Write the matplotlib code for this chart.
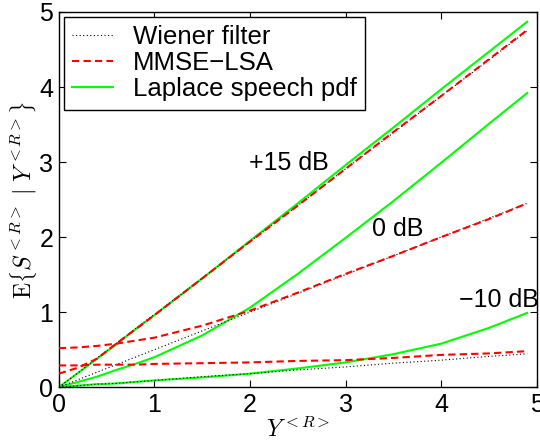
import io
import numpy as np
import matplotlib
matplotlib.use('Agg')
import matplotlib.pyplot as plt
from matplotlib import mathtext

plt.rcParams['font.family'] = ['Liberation Sans', 'DejaVu Sans']
plt.rcParams['mathtext.fontset'] = 'cm'

# Y^<R> sample points
y_r = [0, 0.2, 0.4, 0.6, 0.8, 1.0, 1.5, 2.0, 2.5, 3.0, 3.5, 4.0, 4.5, 4.9]

# Wiener filter
wiener_p15 = [0, 0.19, 0.39, 0.58, 0.78, 0.97, 1.45, 1.94, 2.42, 2.91, 3.39, 3.88, 4.36, 4.75]
wiener_0 = [0, 0.10, 0.20, 0.30, 0.40, 0.50, 0.75, 1.00, 1.25, 1.50, 1.75, 2.00, 2.25, 2.45]
wiener_m10 = [0, 0.02, 0.04, 0.05, 0.07, 0.09, 0.14, 0.18, 0.23, 0.27, 0.32, 0.36, 0.41, 0.445]

# MMSE-LSA
lsa_p15 = [0.18, 0.26, 0.38, 0.58, 0.77, 0.96, 1.45, 1.94, 2.42, 2.91, 3.40, 3.88, 4.37, 4.76]
lsa_0 = [0.52, 0.53, 0.55, 0.58, 0.62, 0.66, 0.82, 1.02, 1.26, 1.51, 1.75, 2.00, 2.24, 2.45]
lsa_m10 = [0.29, 0.29, 0.30, 0.30, 0.30, 0.31, 0.32, 0.33, 0.35, 0.36, 0.39, 0.43, 0.45, 0.48]

# Laplace speech pdf
lap_p15 = [0, 0.19, 0.38, 0.57, 0.77, 0.96, 1.45, 1.95, 2.45, 2.96, 3.46, 3.97, 4.47, 4.87]
lap_0 = [0, 0.07, 0.14, 0.23, 0.31, 0.40, 0.69, 1.06, 1.51, 1.99, 2.48, 2.99, 3.51, 3.92]
lap_m10 = [0, 0.02, 0.04, 0.05, 0.07, 0.09, 0.13, 0.18, 0.25, 0.33, 0.44, 0.58, 0.79, 0.99]

snr_labels = ['+15 dB', '0 dB', '\u221210 dB']
label_pos = [(1.99, 2.89), (3.28, 2.01), (4.19, 1.07)]

ylab = r'$\mathrm{E}\Bigl\{S^{<R>}\ \Big|\ Y^{<R>}\Bigr\}$'
try:
    mathtext.math_to_image(ylab, io.BytesIO(), format='png')
except Exception:
    ylab = r'$\mathrm{E}\left\{S^{<R>}\ |\ Y^{<R>}\right\}$'

fig = plt.figure(figsize=(5.4, 4.43), dpi=100)
ax = fig.add_axes([0.109, 0.126, 0.885, 0.847])

green = '#00ff00'
for lap in [lap_p15, lap_0, lap_m10]:
    l3, = ax.plot(y_r, lap, color=green, lw=1.5, zorder=2)
for w in [wiener_p15, wiener_0, wiener_m10]:
    l1, = ax.plot(y_r, w, color='black', lw=0.8, ls=(0, (1, 2.2)), zorder=3)
for m in [lsa_p15, lsa_0, lsa_m10]:
    l2, = ax.plot(y_r, m, color='red', lw=1.5, ls=(0, (3.5, 2)), zorder=4)

for txt, (tx, ty) in zip(snr_labels, label_pos):
    ax.text(tx, ty, txt, fontsize=18, va='baseline', ha='left', zorder=5)

ax.set_xlim(0, 5)
ax.set_ylim(0, 5)
ax.set_xticks(range(6))
ax.set_yticks(range(6))
ax.tick_params(direction='in', top=True, right=True, length=5, labelsize=18, pad=4)
for s in ax.spines.values():
    s.set_linewidth(1.0)

ax.set_xlabel(r'$Y^{<R>}$', fontsize=17, labelpad=0)
ax.set_ylabel(ylab, fontsize=17, labelpad=0)

leg = ax.legend([l1, l2, l3], ['Wiener filter', 'MMSE\u2212LSA', 'Laplace speech pdf'],
                loc='upper left', fontsize=18.5, fancybox=False, framealpha=1,
                edgecolor='black', handlelength=1.6, handletextpad=0.75,
                labelspacing=0.08, borderpad=0.32, borderaxespad=0.2)
leg.get_frame().set_linewidth(1.0)

fig.savefig('out.png', dpi=100)
